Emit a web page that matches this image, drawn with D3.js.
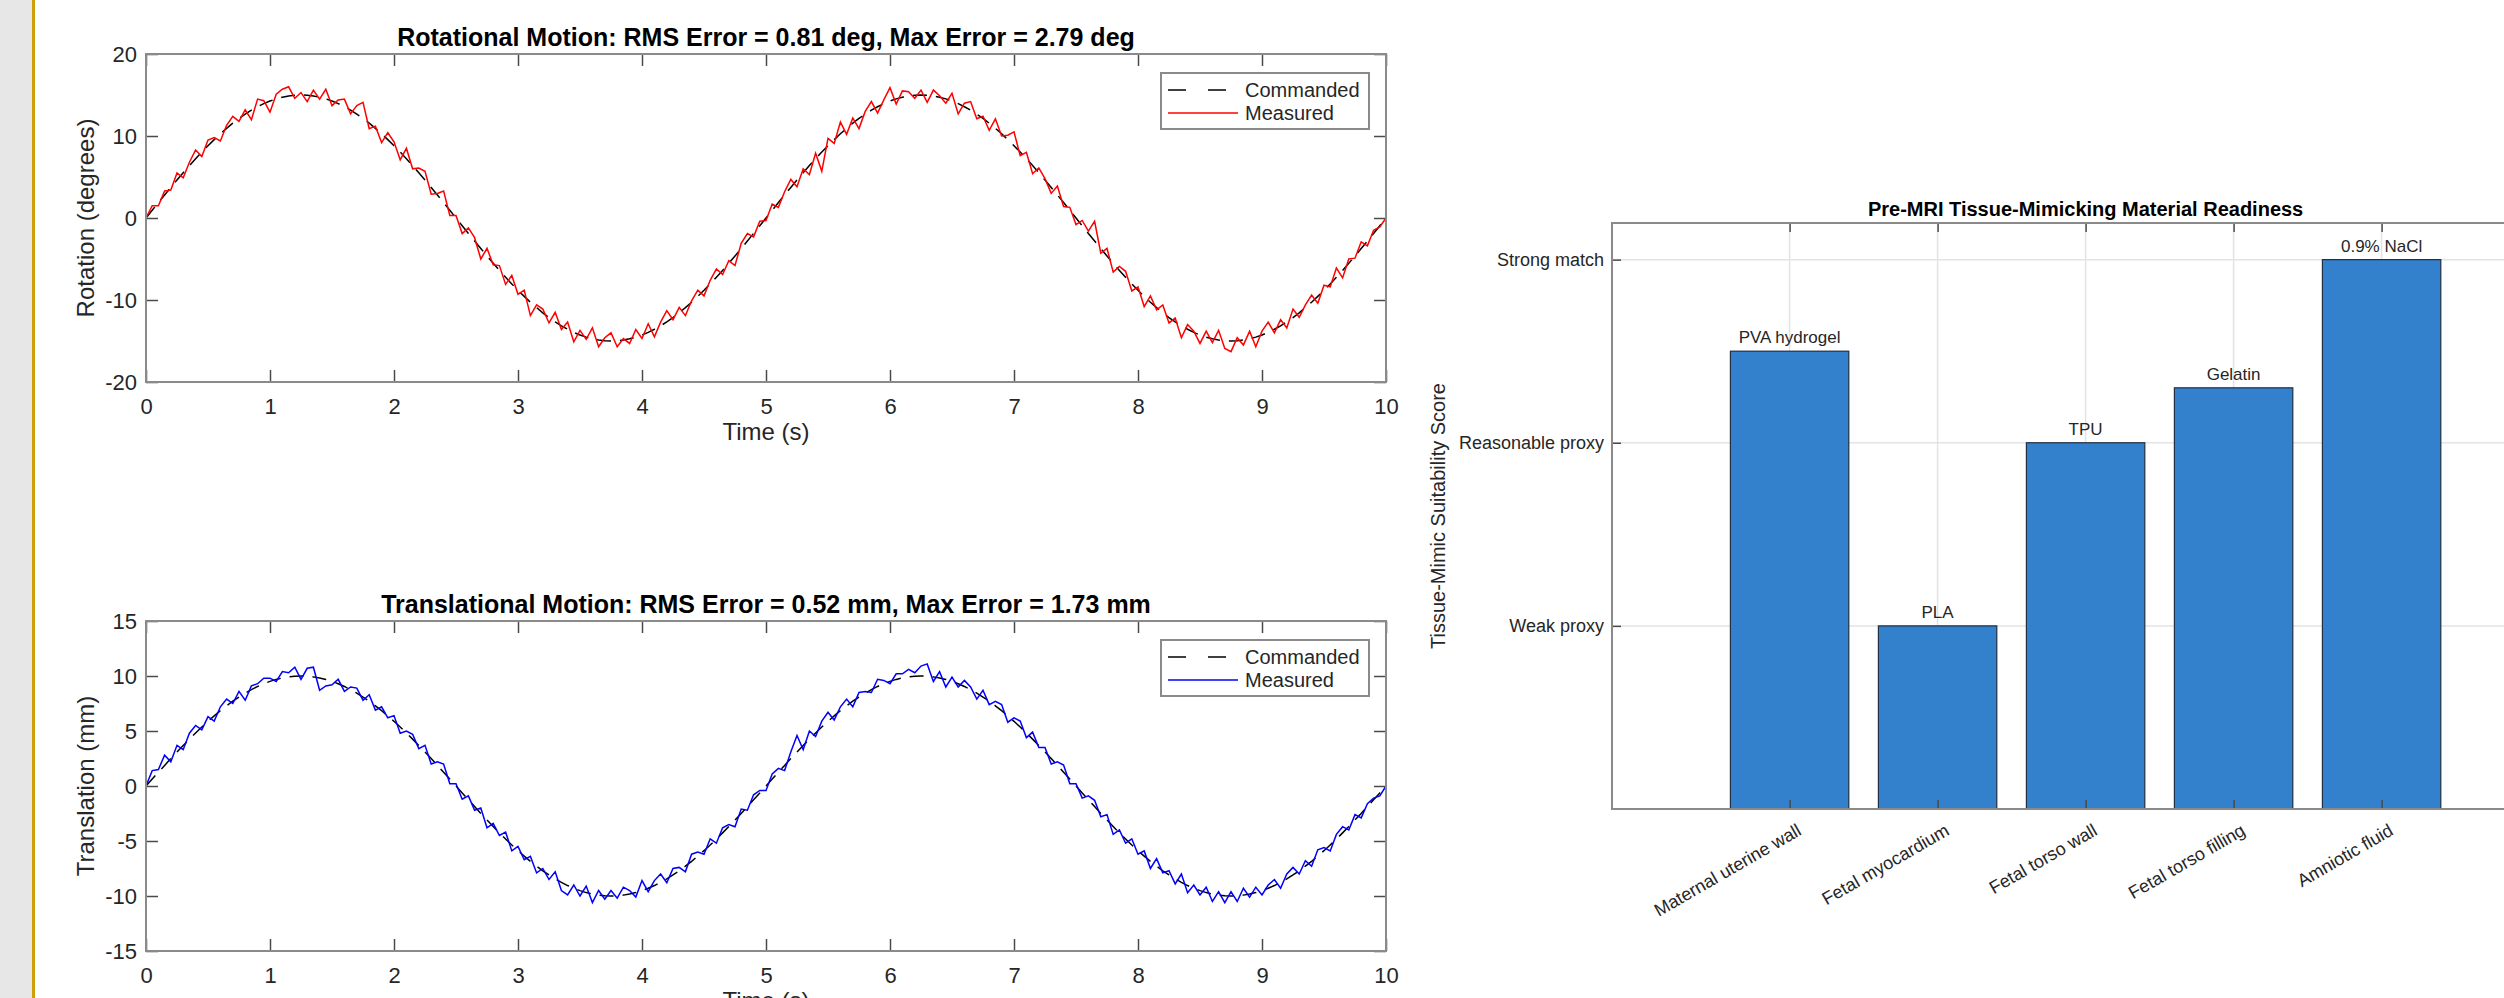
<!DOCTYPE html>
<html>
<head>
<meta charset="utf-8">
<title>Motion tracking and tissue-mimic readiness</title>
<script src="https://cdn.jsdelivr.net/npm/d3@7"></script>
<style>
  body { margin: 0; background: #fff; }
  svg { display: block; font-family: "Liberation Sans", Arial, Helvetica, sans-serif; }
</style>
</head>
<body>
<svg width="2504" height="998"></svg>
<script>
// motion samples, 20 Hz over 0-10 s
var sampleStep = 0.05;

var rotationCommanded = [
  0, 0.94, 1.88, 2.81, 3.73, 4.64, 5.52, 6.39, 7.23, 8.04,
  8.82, 9.56, 10.27, 10.93, 11.56, 12.14, 12.66, 13.15, 13.57, 13.95,
  14.27, 14.53, 14.73, 14.88, 14.97, 15, 14.97, 14.88, 14.73, 14.53,
  14.27, 13.95, 13.57, 13.15, 12.66, 12.14, 11.56, 10.93, 10.27, 9.56,
  8.82, 8.04, 7.23, 6.39, 5.52, 4.64, 3.73, 2.81, 1.88, 0.94,
  0, -0.94, -1.88, -2.81, -3.73, -4.64, -5.52, -6.39, -7.23, -8.04,
  -8.82, -9.56, -10.27, -10.93, -11.56, -12.14, -12.66, -13.15, -13.57, -13.95,
  -14.27, -14.53, -14.73, -14.88, -14.97, -15, -14.97, -14.88, -14.73, -14.53,
  -14.27, -13.95, -13.57, -13.15, -12.66, -12.14, -11.56, -10.93, -10.27, -9.56,
  -8.82, -8.04, -7.23, -6.39, -5.52, -4.64, -3.73, -2.81, -1.88, -0.94,
  0, 0.94, 1.88, 2.81, 3.73, 4.64, 5.52, 6.39, 7.23, 8.04,
  8.82, 9.56, 10.27, 10.93, 11.56, 12.14, 12.66, 13.15, 13.57, 13.95,
  14.27, 14.53, 14.73, 14.88, 14.97, 15, 14.97, 14.88, 14.73, 14.53,
  14.27, 13.95, 13.57, 13.15, 12.66, 12.14, 11.56, 10.93, 10.27, 9.56,
  8.82, 8.04, 7.23, 6.39, 5.52, 4.64, 3.73, 2.81, 1.88, 0.94,
  0, -0.94, -1.88, -2.81, -3.73, -4.64, -5.52, -6.39, -7.23, -8.04,
  -8.82, -9.56, -10.27, -10.93, -11.56, -12.14, -12.66, -13.15, -13.57, -13.95,
  -14.27, -14.53, -14.73, -14.88, -14.97, -15, -14.97, -14.88, -14.73, -14.53,
  -14.27, -13.95, -13.57, -13.15, -12.66, -12.14, -11.56, -10.93, -10.27, -9.56,
  -8.82, -8.04, -7.23, -6.39, -5.52, -4.64, -3.73, -2.81, -1.88, -0.94,
  0
];

var rotationMeasured = [
  0.0, 1.5, 1.5, 3.3, 3.4, 5.5, 4.9, 6.8, 8.3, 7.5,
  9.5, 9.8, 9.4, 11.3, 12.4, 11.8, 13.2, 12.0, 14.5, 14.3,
  12.9, 15.1, 15.7, 16.0, 14.6, 15.3, 14.2, 15.6, 14.5, 15.7,
  13.7, 14.4, 14.5, 12.7, 13.7, 14.1, 10.9, 11.2, 9.2, 10.4,
  9.3, 7.1, 8.5, 6.0, 6.1, 5.7, 2.9, 3.0, 3.3, 0.3,
  0.3, -1.9, -1.2, -2.4, -5.0, -3.7, -5.7, -5.8, -8.1, -7.0,
  -9.3, -8.8, -11.9, -10.6, -11.1, -12.8, -11.5, -13.6, -12.7, -15.1,
  -13.7, -14.8, -13.4, -15.7, -14.6, -14.0, -15.7, -14.7, -15.3, -13.6,
  -14.7, -12.9, -14.5, -12.7, -11.3, -12.4, -10.9, -11.9, -10.1, -8.8,
  -9.5, -7.6, -6.2, -6.9, -5.2, -5.8, -3.1, -1.9, -2.3, -0.4,
  -0.3, 1.7, 1.3, 3.2, 4.7, 3.8, 6.0, 5.3, 7.9, 5.7,
  9.7, 9.1, 11.7, 10.2, 12.2, 10.9, 13.0, 14.2, 12.8, 14.4,
  15.9, 13.9, 15.5, 15.4, 14.6, 15.6, 14.1, 15.6, 14.9, 14.0,
  15.2, 12.7, 14.0, 14.2, 12.1, 12.4, 10.7, 12.1, 10.0, 10.1,
  10.5, 7.6, 8.0, 5.4, 6.1, 4.8, 3.0, 3.9, 1.4, 1.3,
  -0.8, -0.3, -1.6, -0.4, -4.3, -3.7, -6.6, -5.9, -6.5, -8.9,
  -8.4, -10.8, -9.5, -11.2, -10.6, -12.8, -12.2, -14.6, -13.0, -13.8,
  -15.3, -13.8, -15.2, -13.7, -15.9, -16.3, -14.6, -15.5, -13.8, -15.7,
  -13.8, -12.7, -14.0, -12.4, -13.4, -11.1, -12.1, -10.6, -9.4, -10.4,
  -8.2, -8.4, -6.1, -7.3, -5.0, -4.9, -2.9, -3.4, -1.5, -1.1,
  0.0
];

var translationCommanded = [
  0, 0.63, 1.25, 1.87, 2.49, 3.09, 3.68, 4.26, 4.82, 5.36,
  5.88, 6.37, 6.85, 7.29, 7.71, 8.09, 8.44, 8.76, 9.05, 9.30,
  9.51, 9.69, 9.82, 9.92, 9.98, 10, 9.98, 9.92, 9.82, 9.69,
  9.51, 9.30, 9.05, 8.76, 8.44, 8.09, 7.71, 7.29, 6.85, 6.37,
  5.88, 5.36, 4.82, 4.26, 3.68, 3.09, 2.49, 1.87, 1.25, 0.63,
  0, -0.63, -1.25, -1.87, -2.49, -3.09, -3.68, -4.26, -4.82, -5.36,
  -5.88, -6.37, -6.85, -7.29, -7.71, -8.09, -8.44, -8.76, -9.05, -9.30,
  -9.51, -9.69, -9.82, -9.92, -9.98, -10, -9.98, -9.92, -9.82, -9.69,
  -9.51, -9.30, -9.05, -8.76, -8.44, -8.09, -7.71, -7.29, -6.85, -6.37,
  -5.88, -5.36, -4.82, -4.26, -3.68, -3.09, -2.49, -1.87, -1.25, -0.63,
  0, 0.63, 1.25, 1.87, 2.49, 3.09, 3.68, 4.26, 4.82, 5.36,
  5.88, 6.37, 6.85, 7.29, 7.71, 8.09, 8.44, 8.76, 9.05, 9.30,
  9.51, 9.69, 9.82, 9.92, 9.98, 10, 9.98, 9.92, 9.82, 9.69,
  9.51, 9.30, 9.05, 8.76, 8.44, 8.09, 7.71, 7.29, 6.85, 6.37,
  5.88, 5.36, 4.82, 4.26, 3.68, 3.09, 2.49, 1.87, 1.25, 0.63,
  0, -0.63, -1.25, -1.87, -2.49, -3.09, -3.68, -4.26, -4.82, -5.36,
  -5.88, -6.37, -6.85, -7.29, -7.71, -8.09, -8.44, -8.76, -9.05, -9.30,
  -9.51, -9.69, -9.82, -9.92, -9.98, -10, -9.98, -9.92, -9.82, -9.69,
  -9.51, -9.30, -9.05, -8.76, -8.44, -8.09, -7.71, -7.29, -6.85, -6.37,
  -5.88, -5.36, -4.82, -4.26, -3.68, -3.09, -2.49, -1.87, -1.25, -0.63,
  0
];

var translationMeasured = [
  0.0, 1.4, 1.5, 2.8, 2.2, 3.7, 3.3, 4.8, 5.5, 5.1,
  6.3, 5.9, 7.2, 7.9, 7.5, 8.6, 7.8, 9.1, 9.3, 9.8,
  9.8, 9.5, 10.4, 10.3, 10.8, 9.7, 10.7, 10.8, 8.7, 9.1,
  9.2, 9.7, 8.6, 9.0, 8.9, 7.8, 8.3, 6.9, 7.2, 6.2,
  6.4, 4.8, 5.0, 4.7, 3.4, 3.7, 2.0, 2.2, 2.0, 0.2,
  0.2, -1.2, -0.9, -2.2, -2.0, -3.8, -3.4, -4.5, -4.2, -5.9,
  -5.5, -6.7, -6.4, -7.9, -7.5, -8.5, -7.8, -9.5, -9.9, -9.0,
  -10.0, -9.1, -10.6, -9.5, -10.3, -9.5, -10.2, -9.2, -9.5, -10.1,
  -8.6, -9.6, -8.6, -8.0, -8.8, -7.5, -7.4, -7.8, -6.2, -6.0,
  -6.2, -4.8, -5.2, -3.8, -3.5, -3.7, -2.1, -2.2, -0.8, -0.4,
  -0.4, 1.1, 1.6, 1.4, 3.1, 4.6, 3.3, 5.0, 4.5, 5.9,
  6.7, 6.0, 7.2, 7.9, 7.2, 8.5, 8.6, 8.5, 9.7, 9.6,
  9.3, 10.2, 10.2, 10.6, 10.3, 10.9, 11.1, 9.5, 10.4, 9.0,
  9.9, 9.0, 9.6, 9.0, 7.9, 8.7, 7.4, 7.7, 7.4, 5.8,
  6.2, 5.9, 4.4, 4.9, 3.5, 3.5, 2.0, 2.2, 1.9, 0.2,
  0.2, -1.1, -0.9, -1.3, -2.8, -2.6, -4.4, -4.0, -5.2, -4.8,
  -6.2, -5.9, -7.5, -6.6, -7.9, -7.7, -8.9, -8.0, -9.7, -9.0,
  -9.9, -9.2, -10.5, -9.6, -10.6, -9.6, -10.5, -9.3, -10.1, -9.2,
  -9.9, -9.0, -8.5, -9.3, -8.0, -7.4, -8.0, -6.8, -7.3, -5.8,
  -5.6, -5.9, -4.4, -3.7, -4.0, -2.6, -2.9, -1.6, -1.1, -0.9,
  0.0
];

var timeTicks = [0, 1, 2, 3, 4, 5, 6, 7, 8, 9, 10];
var rotationTicks = [-20, -10, 0, 10, 20];
var translationTicks = [-15, -10, -5, 0, 5, 10, 15];

// bar chart
var tissues = ["Maternal uterine wall", "Fetal myocardium", "Fetal torso wall", "Fetal torso filling", "Amniotic fluid"];
var materials = ["PVA hydrogel", "PLA", "TPU", "Gelatin", "0.9% NaCl"];
var suitability = [2.5, 1, 2, 2.3, 3];
var scoreTicks = [1, 2, 3];
var scoreNames = ["Weak proxy", "Reasonable proxy", "Strong match"];

var svg = d3.select("svg");
var textColor = "#262626";
var boxColor = "#8a8a8a";
var tickColor = "#4a4a4a";

// page edge on the left
svg.append("rect").attr("x", 0).attr("y", 0).attr("width", 32).attr("height", 998).attr("fill", "#e8e7e8");
svg.append("rect").attr("x", 32).attr("y", 0).attr("width", 3).attr("height", 998).attr("fill", "#cf9f0a");

var timeScale = d3.scaleLinear().domain([0, 10]).range([146, 1386]);

function motionPanel(p) {
	var y = d3.scaleLinear().domain(p.yDomain).range([p.bottom, p.top]);
	var g = svg.append("g");

	var line = d3.line()
		.x(function(d, i) { return timeScale(i * sampleStep); })
		.y(function(d) { return y(d); });

	g.append("path").datum(p.commanded)
		.attr("d", line)
		.attr("fill", "none")
		.attr("stroke", "#000")
		.attr("stroke-width", 1.5)
		.attr("stroke-dasharray", "14,9");

	g.append("path").datum(p.measured)
		.attr("d", line)
		.attr("fill", "none")
		.attr("stroke", p.color)
		.attr("stroke-width", 1.5);

	// ticks on all four sides, pointing in
	g.append("g")
		.attr("transform", "translate(0," + p.bottom + ")")
		.call(d3.axisBottom(timeScale).tickValues(timeTicks).tickSize(-12).tickPadding(16)
			.tickFormat(function(d) { return String(d); }));
	g.append("g")
		.attr("transform", "translate(0," + p.top + ")")
		.call(d3.axisTop(timeScale).tickValues(timeTicks).tickSize(-12).tickFormat(""));
	g.append("g")
		.attr("transform", "translate(146,0)")
		.call(d3.axisLeft(y).tickValues(p.ticks).tickSize(-12).tickPadding(9)
			.tickFormat(function(d) { return String(d); }));
	g.append("g")
		.attr("transform", "translate(1386,0)")
		.call(d3.axisRight(y).tickValues(p.ticks).tickSize(-12).tickFormat(""));

	g.selectAll(".domain").remove();
	g.selectAll(".tick line").attr("stroke", tickColor).attr("stroke-width", 1.5);
	g.selectAll(".tick text").attr("fill", textColor).attr("font-size", 22);

	g.append("rect")
		.attr("x", 146).attr("y", p.top)
		.attr("width", 1386 - 146).attr("height", p.bottom - p.top)
		.attr("fill", "none").attr("stroke", boxColor).attr("stroke-width", 2);

	g.append("text")
		.attr("x", 766).attr("y", p.top - 8)
		.attr("text-anchor", "middle")
		.attr("font-size", 25).attr("font-weight", "bold")
		.attr("fill", "#000")
		.text(p.title);

	g.append("text")
		.attr("x", 766).attr("y", p.bottom + 58)
		.attr("text-anchor", "middle")
		.attr("font-size", 24).attr("fill", textColor)
		.text("Time (s)");

	g.append("text")
		.attr("transform", "translate(94," + ((p.top + p.bottom) / 2) + ") rotate(-90)")
		.attr("text-anchor", "middle")
		.attr("font-size", 24).attr("fill", textColor)
		.text(p.yLabel);

	// legend
	var lg = g.append("g").attr("transform", "translate(1161," + (p.top + 19) + ")");
	lg.append("rect").attr("width", 208).attr("height", 56)
		.attr("fill", "#fff").attr("stroke", boxColor).attr("stroke-width", 2);
	var entries = [
		{ name: "Commanded", color: "#000", dash: "18,22" },
		{ name: "Measured", color: p.color, dash: null }
	];
	entries.forEach(function(e, i) {
		var cy = 17 + i * 23;
		lg.append("line").attr("x1", 7).attr("x2", 77).attr("y1", cy).attr("y2", cy)
			.attr("stroke", e.color).attr("stroke-width", 1.5)
			.attr("stroke-dasharray", e.dash);
		lg.append("text").attr("x", 84).attr("y", cy).attr("dy", "0.35em")
			.attr("font-size", 20).attr("fill", textColor)
			.text(e.name);
	});
}

motionPanel({
	top: 54, bottom: 382, yDomain: [-20, 20], ticks: rotationTicks,
	commanded: rotationCommanded, measured: rotationMeasured, color: "#ff0000",
	title: "Rotational Motion: RMS Error = 0.81 deg, Max Error = 2.79 deg",
	yLabel: "Rotation (degrees)"
});

motionPanel({
	top: 621, bottom: 951, yDomain: [-15, 15], ticks: translationTicks,
	commanded: translationCommanded, measured: translationMeasured, color: "#0000ff",
	title: "Translational Motion: RMS Error = 0.52 mm, Max Error = 1.73 mm",
	yLabel: "Translation (mm)"
});

// ---- readiness bars ----
var barLeft = 1612, barTop = 223, barBottom = 809;
var barX = d3.scaleLinear().domain([-0.2, 6.2]).range([barLeft, barLeft + 6.4 * 148]);
var barY = d3.scaleLinear().domain([0, 3.2]).range([barBottom, barTop]);
var barRight = barX(6.2);
var positions = tissues.map(function(d, i) { return i + 1; });

var bg = svg.append("g");

// grid
bg.selectAll(".hgrid").data(scoreTicks).enter().append("line")
	.attr("x1", barLeft).attr("x2", barRight)
	.attr("y1", function(d) { return barY(d); }).attr("y2", function(d) { return barY(d); })
	.attr("stroke", "#e3e3e3").attr("stroke-width", 1.5);
bg.selectAll(".vgrid").data(positions).enter().append("line")
	.attr("x1", function(d) { return barX(d); }).attr("x2", function(d) { return barX(d); })
	.attr("y1", barTop).attr("y2", barBottom)
	.attr("stroke", "#e3e3e3").attr("stroke-width", 1.5);

bg.selectAll(".bar").data(suitability).enter().append("rect")
	.attr("x", function(d, i) { return barX(positions[i] - 0.4); })
	.attr("width", barX(0.8) - barX(0))
	.attr("y", function(d) { return barY(d); })
	.attr("height", function(d) { return barBottom - barY(d); })
	.attr("fill", "#3380cc")
	.attr("stroke", "#1f2f44").attr("stroke-width", 1.2);

bg.selectAll(".barlabel").data(suitability).enter().append("text")
	.attr("x", function(d, i) { return barX(positions[i]); })
	.attr("y", function(d) { return barY(d) - 8; })
	.attr("text-anchor", "middle")
	.attr("font-size", 17).attr("fill", textColor)
	.text(function(d, i) { return materials[i]; });

var bx = bg.append("g")
	.attr("transform", "translate(0," + barBottom + ")")
	.call(d3.axisBottom(barX).tickValues(positions).tickSize(-9)
		.tickFormat(function(d) { return tissues[d - 1]; }));
bx.selectAll("text")
	.attr("x", 6).attr("y", 14).attr("dy", "0.71em")
	.attr("text-anchor", "end")
	.attr("transform", "rotate(-30,6,14)");
bg.append("g")
	.attr("transform", "translate(0," + barTop + ")")
	.call(d3.axisTop(barX).tickValues(positions).tickSize(-9).tickFormat(""));
bg.append("g")
	.attr("transform", "translate(" + barLeft + ",0)")
	.call(d3.axisLeft(barY).tickValues(scoreTicks).tickSize(-9).tickPadding(8)
		.tickFormat(function(d) { return scoreNames[d - 1]; }));
bg.append("g")
	.attr("transform", "translate(" + barRight + ",0)")
	.call(d3.axisRight(barY).tickValues(scoreTicks).tickSize(-9).tickFormat(""));

bg.selectAll(".domain").remove();
bg.selectAll(".tick line").attr("stroke", tickColor).attr("stroke-width", 1.5);
bg.selectAll(".tick text").attr("fill", textColor).attr("font-size", 18);

bg.append("rect")
	.attr("x", barLeft).attr("y", barTop)
	.attr("width", barRight - barLeft).attr("height", barBottom - barTop)
	.attr("fill", "none").attr("stroke", boxColor).attr("stroke-width", 2);

bg.append("text")
	.attr("x", (barLeft + barRight) / 2).attr("y", barTop - 7)
	.attr("text-anchor", "middle")
	.attr("font-size", 20).attr("font-weight", "bold").attr("fill", "#000")
	.text("Pre-MRI Tissue-Mimicking Material Readiness");

bg.append("text")
	.attr("transform", "translate(1445," + ((barTop + barBottom) / 2) + ") rotate(-90)")
	.attr("text-anchor", "middle")
	.attr("font-size", 20).attr("fill", textColor)
	.text("Tissue-Mimic Suitability Score");
</script>
</body>
</html>
